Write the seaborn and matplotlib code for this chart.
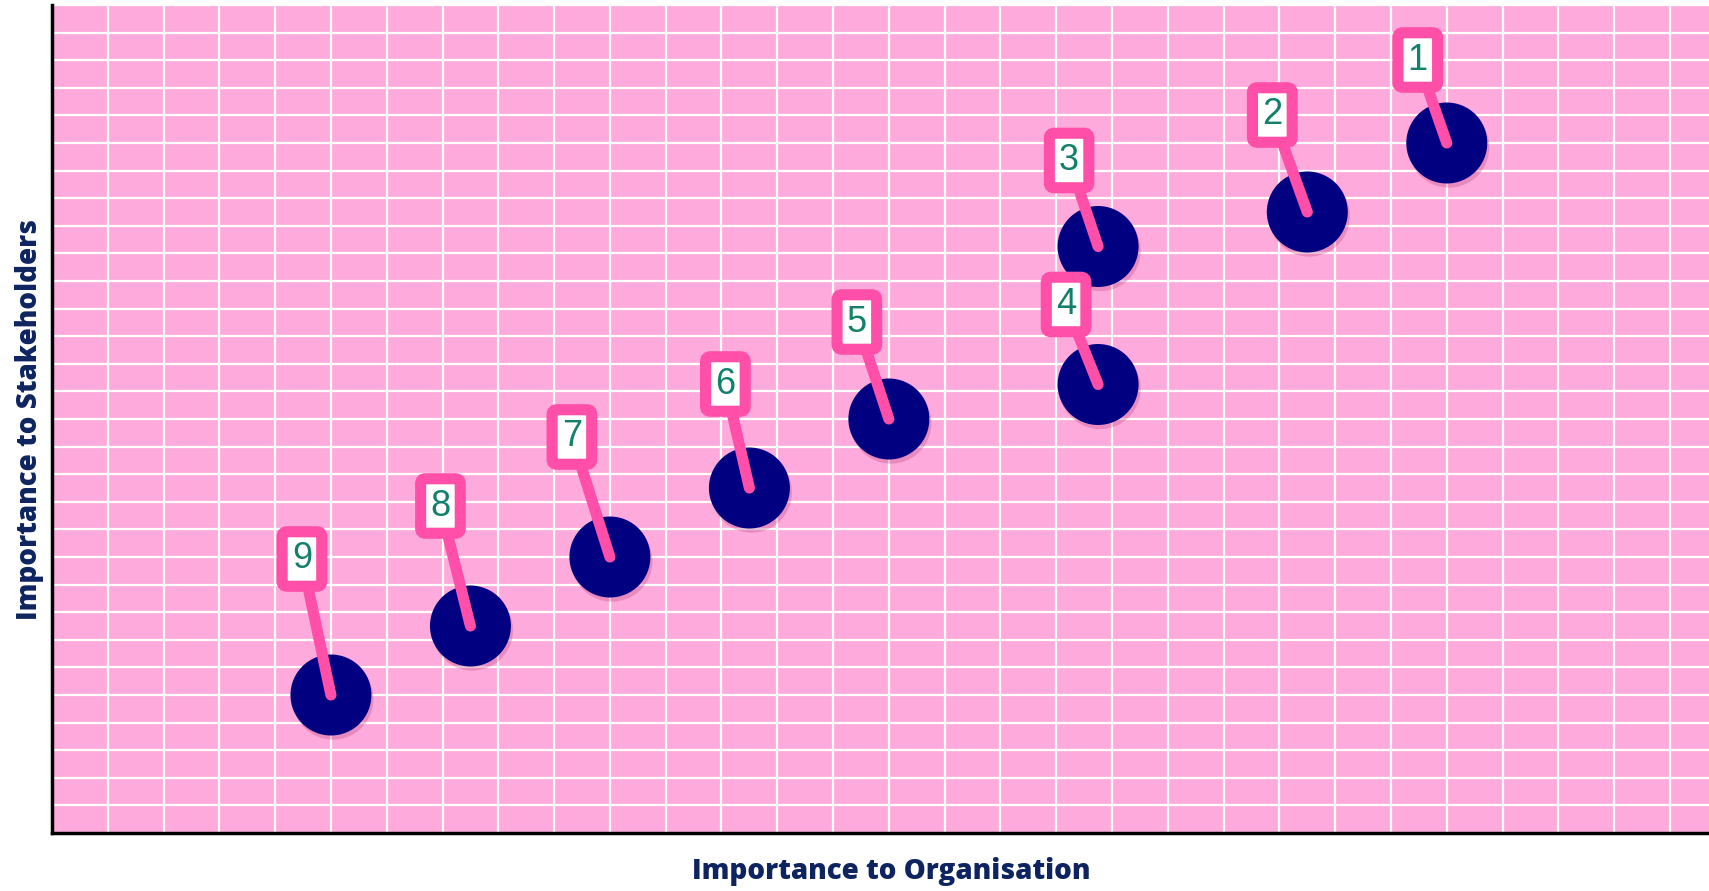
import matplotlib
matplotlib.use("Agg")
import matplotlib.pyplot as plt
import matplotlib.patheffects as pe
import seaborn as sns
import pandas as pd

# materiality matrix values
issue_ids = ["1", "2", "3", "4", "5", "6", "7", "8", "9"]
org_importance = [25, 22.5, 18.75, 18.75, 15, 12.5, 10, 7.5, 5]
stakeholder_importance = [25, 22.5, 21.25, 16.25, 15, 12.5, 10, 7.5, 5]

# layout: where each pin label sits relative to its point (pixels)
pin_dx = [-29, -35, -29, -32, -32, -24, -38, -30, -29]
pin_dy = [83, 97, 86, 80, 97, 104, 120, 120, 136]

BG = "#ffaadc"
PIN = "#ff4fa8"
NAVY = "#000080"
TEAL = "#12806a"
LABEL = "#0d2460"

sns.set_style("whitegrid", {
    "axes.facecolor": BG,
    "grid.color": "white",
    "axes.edgecolor": "black",
})
plt.rcParams["font.family"] = ["Open Sans", "DejaVu Sans"]

df = pd.DataFrame({
    "issue": issue_ids,
    "org": org_importance,
    "stake": stakeholder_importance,
})

fig = plt.figure(figsize=(17.09, 8.91), dpi=100)
ax = fig.add_axes([52 / 1709, 58 / 891, 1657 / 1709, 828 / 891])

sns.scatterplot(data=df, x="org", y="stake", s=3400, color=NAVY,
                edgecolor="none", linewidth=0, ax=ax, zorder=3)
ax.collections[0].set_path_effects([
    pe.SimplePatchShadow(offset=(1.5, -3), shadow_rgbFace="#c0508a", alpha=0.35),
    pe.Normal(),
])

for i, row in df.iterrows():
    ax.annotate(
        row["issue"], xy=(row["org"], row["stake"]),
        xytext=(pin_dx[i], pin_dy[i]), textcoords="offset pixels",
        ha="center", va="center", fontsize=26, color=TEAL,
        family=["Liberation Sans", "DejaVu Sans"], zorder=5,
        bbox=dict(boxstyle="round,pad=0.27,rounding_size=0.14",
                  facecolor="white", edgecolor=PIN, linewidth=8),
        arrowprops=dict(arrowstyle="-", color=PIN, linewidth=8,
                        shrinkA=0, shrinkB=0, capstyle="round"),
    )

ax.set_xlim(0, 29.7)
ax.set_ylim(0, 30)
ax.set_xticks(range(0, 30))
ax.set_yticks(range(0, 31))
ax.tick_params(length=0, labelbottom=False, labelleft=False)
ax.grid(True, color="white", linewidth=1.6)
ax.set_axisbelow(True)

for side in ["top", "right"]:
    ax.spines[side].set_visible(False)
for side in ["left", "bottom"]:
    ax.spines[side].set_linewidth(2.5)
    ax.spines[side].set_color("black")

ax.set_xlabel("Importance to Organisation", fontsize=20, fontweight="heavy",
              color=LABEL)
ax.set_ylabel("Importance to Stakeholders", fontsize=20, fontweight="heavy",
              color=LABEL)
ax.xaxis.set_label_coords((891 - 52) / 1657, -24 / 828)
ax.yaxis.set_label_coords(-8 / 1657, (833 - 420) / 828)

fig.savefig("out.png", dpi=100)
